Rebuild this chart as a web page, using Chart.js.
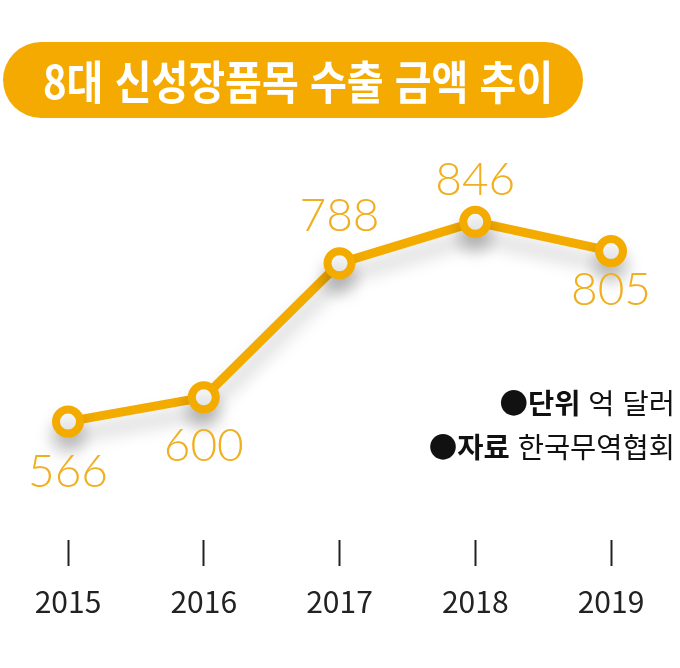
<!DOCTYPE html>
<html lang="ko">
<head>
<meta charset="utf-8">
<title>8대 신성장품목 수출 금액 추이</title>
<script src="https://cdn.jsdelivr.net/npm/chart.js@4"></script>
<style>
  body { margin: 0; background: #fff; }
  #wrap { position: relative; width: 680px; height: 668px; overflow: hidden; }
  #title {
    position: absolute; left: 3px; top: 42px; width: 580px; height: 76px;
    background: #F4AA00; border-radius: 38px;
  }
  #title span {
    position: absolute; left: 40px; top: 7px;
    font-family: "Noto Sans CJK KR", sans-serif; font-weight: 700;
    font-size: 46px; line-height: 60px; color: #fff; white-space: nowrap;
    transform: scaleX(0.87); transform-origin: left center;
  }
  .note {
    position: absolute; right: 5px; font-family: "Noto Sans CJK KR", sans-serif;
    font-size: 28.5px; color: #111; white-space: nowrap; line-height: 36px;
  }
  .note b { font-weight: 700; }
</style>
</head>
<body>
<div id="wrap">
  <canvas id="lineChart" width="680" height="668"></canvas>
  <div id="title"><span>8대 신성장품목 수출 금액 추이</span></div>
  <div class="note" style="top:384px">●<b>단위</b> 억 달러</div>
  <div class="note" style="top:428px">●<b>자료</b> 한국무역협회</div>
</div>
<script>
// 연도별 수출 금액 (단위: 억 달러)
const anos = ['2015', '2016', '2017', '2018', '2019'];
const valores = [566, 600, 788, 846, 805];

const laranja = '#F3AB00';

// rótulos de valor acima/abaixo dos pontos
const rotulos = {
  id: 'rotulos',
  afterDatasetsDraw(chart) {
    const ctx = chart.ctx;
    const desloc = [51, 49, -47, -42, 39]; // distância vertical do ponto
    const meta = chart.getDatasetMeta(0);
    ctx.save();
    ctx.font = '300 46px Lato';
    ctx.fillStyle = '#EFAF1E';
    ctx.textAlign = 'center';
    ctx.textBaseline = 'middle';
    meta.data.forEach(function(pt, i) {
      ctx.fillText(String(valores[i]), pt.x, pt.y + desloc[i]);
    });
    ctx.restore();
  }
};

// sombra suave sob a linha
const sombra = {
  id: 'sombra',
  beforeDatasetDraw(chart) {
    const ctx = chart.ctx;
    ctx.save();
    ctx.shadowColor = 'rgba(0,0,0,0.22)';
    ctx.shadowBlur = 18;
    ctx.shadowOffsetY = 14;
  },
  afterDatasetDraw(chart) {
    chart.ctx.restore();
  }
};

const config = {
  type: 'line',
  data: {
    labels: anos,
    datasets: [{
      data: valores,
      borderColor: laranja,
      borderWidth: 9,
      pointRadius: 12,
      pointBorderWidth: 8,
      pointBackgroundColor: '#fff',
      pointBorderColor: laranja,
      tension: 0,
      clip: false
    }]
  },
  options: {
    responsive: false,
    animation: false,
    layout: { padding: { top: 112, bottom: 30, left: 68, right: 69 } },
    plugins: { legend: { display: false }, tooltip: { enabled: false } },
    scales: {
      y: { display: false, min: 400, max: 1000 },
      x: {
        offset: false,
        border: { display: false },
        grid: {
          drawOnChartArea: false,
          drawTicks: true,
          tickLength: 26,
          tickWidth: 2,
          tickColor: '#222'
        },
        ticks: {
          padding: 18,
          color: '#222',
          font: { family: 'Noto Sans CJK KR', size: 30 }
        }
      }
    }
  },
  plugins: [sombra, rotulos]
};

new Chart(document.getElementById('lineChart').getContext('2d'), config);
</script>
</body>
</html>
